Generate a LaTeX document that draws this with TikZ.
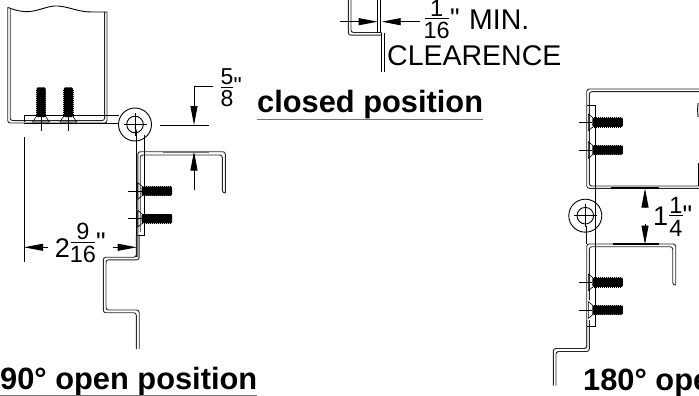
\documentclass[tikz,border=0pt]{standalone}
\usepackage{fontspec}
\setmainfont{Liberation Sans}
\newfontfamily\straightquote{Liberation Sans}
\usetikzlibrary{arrows.meta}
\tikzset{
  x=1pt,y=-1pt,
  wall/.style={draw=black!85,line width=0.9pt,line join=round,rounded corners=2.5pt},
  thin line/.style={draw=black,line width=0.9pt},
  gray rule/.style={draw=black!55,line width=1.2pt},
  dimline/.style={draw=black,line width=0.9pt},
  dimarrow/.style={draw=black,line width=0.9pt,-{Triangle[length=19pt,width=7pt]}},
  dimtext/.style={inner sep=0pt,font=\fontsize{27}{28}\selectfont},
  fractext/.style={inner sep=0pt,font=\fontsize{23.5}{25}\selectfont},
  labeltext/.style={inner sep=0pt,anchor=base west,font=\fontsize{28.5}{29}\selectfont},
  quotetext/.style={inner sep=0pt,anchor=base west,font=\fontsize{27}{28}\straightquote\selectfont},
  titletext/.style={inner sep=0pt,anchor=base west,font=\fontsize{30.8}{31}\selectfont\bfseries},
  boltbody/.style={fill=black,draw=none,rounded corners=1pt},
  thread/.style={draw=black,line width=1pt,dash pattern=on 1pt off 1pt},
  hingeouter/.style={draw=black,line width=0.9pt,fill=white},
}
\newcommand{\hbolt}[2]{% x of head, y of axis
  \fill[boltbody] (#1,#2-4.5) rectangle (#1+30.5,#2+4.5);
  \draw[thread] (#1,#2-4.7) -- (#1+29,#2-4.7) (#1,#2+4.7) -- (#1+29,#2+4.7);
  \draw[thin line] (#1-13.5,#2) -- (#1,#2);
  \draw[thin line,line width=0.6pt] (#1-4,#2-8.5) -- (#1,#2-5) (#1-4,#2+8.5) -- (#1,#2+5) (#1-4,#2-8.5) -- (#1-4,#2+8.5);
}
\newcommand{\vbolt}[2]{% x of axis, y of head
  \fill[boltbody] (#1-4.5,#2) rectangle (#1+4.5,#2-29.5);
  \draw[thread] (#1-4.7,#2) -- (#1-4.7,#2-28) (#1+4.7,#2) -- (#1+4.7,#2-28);
  \draw[thin line] (#1,#2) -- (#1,#2+13.5);
  \draw[thin line,line width=0.6pt] (#1-8.5,#2+5) -- (#1-5,#2) (#1+8.5,#2+5) -- (#1+5,#2) (#1-8.5,#2+5) -- (#1+8.5,#2+5);
}
\newcommand{\hingeknuckle}[2]{%
  \draw[hingeouter] (#1,#2) circle (16.5);
  \draw[thin line] (#1,#2) circle (8.3);
  \draw[thin line] (#1-11.5,#2) -- (#1+11.5,#2) (#1,#2-11.5) -- (#1,#2+11.5);
}
\begin{document}
\begin{tikzpicture}
\useasboundingbox (0,0) rectangle (699,396);
\clip (0,0) rectangle (699,396);
% --- 90 degree view: cabinet box
\draw[wall] (7.7,7.5) -- (7.7,123) -- (107,123) -- (107,12);
\draw[wall] (10.2,8) -- (10.2,120.6) -- (104.6,120.6) -- (104.6,12);
\draw[thin line] (7.7,7.5) .. controls (18,11) and (22,12) .. (30,11.5) .. controls (42,10) and (48,5.5) .. (58,6) .. controls (70,7) and (78,12) .. (92,12) -- (107,12);
\draw[thin line] (24,122) -- (24,115) -- (119,115);
\draw[thin line] (24,123) -- (119,123);
\vbolt{41}{117}
\vbolt{68.3}{117}
% leaf below hinge
\hingeknuckle{135}{124.5}
\draw[thin line] (144.3,135) -- (144.3,235) -- (136.7,235);
\draw[thin line] (136.7,132) -- (136.7,257);
% door bracket
\draw[wall] (137.8,257) -- (137.8,151.7) -- (225.3,151.7) -- (225.3,193);
\draw[wall] (140.2,232) -- (140.2,155) -- (222.4,155) -- (222.4,193) -- (225.3,193);
\draw[thin line] (135,127) -- (137,133);
\hbolt{141.7}{191}
\hbolt{141.7}{218.7}
% Z flange
\draw[wall] (136.3,235) -- (136.3,257.2) -- (103.3,257.2) -- (103.3,312.7) -- (136.3,312.7) -- (136.3,349);
\draw[wall] (139.2,235) -- (139.2,259.8) -- (106,259.8) -- (106,310) -- (139.2,310) -- (139.2,349);
% --- dimensions, 90 view
\coordinate (wL) at (24,247.3); \coordinate (wR) at (136.7,247.3);
\coordinate (wLt) at (48,247.3); \coordinate (wRt) at (112.7,247.3);
\draw[thin line] (24,137) -- (24,262);
\draw[dimarrow] (wLt) -- (wL);
\draw[dimarrow] (wRt) -- (wR);
\node[dimtext] (w2) at (62.5,248) {2};
\node[fractext] (w9) at (83,231.5) {9};
\draw[thin line] (71,242.7) -- (95,242.7);
\node[fractext] (w16) at (83,254) {16};
\node[quotetext] (wq) at (96,251) {"};
\coordinate (c1) at (213,86.7); \coordinate (c2) at (194,86.7); \coordinate (c3) at (194,125);
\draw[dimarrow] (c1) -- (c2) -- (c3);
\draw[dimline] (160,125) -- (209,125);
\coordinate (c4) at (194,190); \coordinate (c5) at (194,151.5);
\draw[dimarrow] (c4) -- (c5);
\draw[gray rule] (163,152) -- (209,152);
\node[fractext,font=\fontsize{23}{24}\selectfont] (n5) at (227,77) {5};
\draw[thin line] (221,87) -- (233,87);
\node[fractext,font=\fontsize{23}{24}\selectfont] (n8) at (227,99) {8};
\node[quotetext,font=\fontsize{23}{24}\straightquote\selectfont] (nq) at (233.5,93) {"};
\node[titletext] (closed) at (257,113) {closed position};
\draw[gray rule] (257,119.5) -- (483,119.5);
\node[titletext] (open90) at (0,389.5) {90° open position};
\draw[gray rule] (0,395.3) -- (257,395.3);
% --- clearance detail
\draw[wall] (348.3,-3) -- (348.3,35.2) -- (381.7,35.2);
\draw[wall] (351,-3) -- (351,32.5) -- (381.7,32.5);
\draw[thin line] (377.7,-3) -- (377.7,33) (380.7,-3) -- (380.7,33);
\draw[thin line] (381.7,33) -- (381.7,71.7) (384.3,33) -- (384.3,71.7);
\coordinate (k0) at (340,21.7); \coordinate (k1) at (377.7,21.7);
\coordinate (k2) at (420,21.7); \coordinate (k3) at (381.7,21.7);
\draw[dimarrow] (k0) -- (k1);
\draw[dimarrow] (k2) -- (k3);
\node[fractext] (k1t) at (436.7,8.7) {1};
\draw[thin line] (425,18.3) -- (449.3,18.3);
\node[fractext] (k16) at (436.7,30.7) {16};
\node[quotetext] (kq) at (450,27.5) {"};
\node[labeltext] (kmin) at (469,30) {MIN.};
\node[labeltext] (kcl) at (387,65.7) {CLEARENCE};
% --- 180 degree view: upper box
\draw[wall] (699,89) -- (586.7,89) -- (586.7,188.3) -- (699,188.3);
\draw[wall] (699,91.7) -- (589.3,91.7) -- (589.3,186) -- (699,186);
\draw[thin line] (586.7,105) -- (595,105) -- (595,200);
\hbolt{592.3}{122.3}
\hbolt{592.3}{150}
\draw[thin line] (698.2,103) .. controls (697.4,108) and (697.4,112) .. (698.2,117);
\draw[thin line] (698,163) -- (698,186);
\hingeknuckle{585.3}{215.7}
\draw[thin line] (586.7,226) -- (586.7,244) (595,226) -- (595,244);
\draw[thin line] (595,198) -- (595,326.7) -- (586.7,326.7);
% lower bracket
\draw[wall] (586.7,348.3) -- (586.7,244) -- (675.7,244) -- (675.7,285);
\draw[wall] (589.3,300) -- (589.3,246.7) -- (672.7,246.7) -- (672.7,285) -- (675.7,285);
\hbolt{592.3}{282.3}
\hbolt{592.3}{310}
\draw[wall] (586.7,320) -- (586.7,348.5) -- (553.3,348.5) -- (553.3,385.7);
\draw[wall] (589.3,320) -- (589.3,351.5) -- (556,351.5) -- (556,385.7);
% --- dimension 180 view
\coordinate (v1) at (645,206.7); \coordinate (v2) at (645,188.5);
\coordinate (v3) at (645,224); \coordinate (v4) at (645,244.5);
\draw[dimarrow] (v1) -- (v2);
\draw[dimarrow] (v3) -- (v4);
\draw[draw=black,line width=1.2pt] (610.7,188) -- (659,188);
\draw[draw=black,line width=1.2pt] (613,244) -- (659,244);
\node[dimtext] (v1t) at (660.7,216) {1};
\node[fractext] (v11) at (676,205.5) {1};
\draw[thin line] (669,215.8) -- (682.7,215.8);
\node[fractext] (v14) at (676,228) {4};
\node[quotetext] (vq) at (682.5,224.5) {"};
\node[titletext] (open180) at (583,390) {180° open position};
\end{tikzpicture}
\end{document}
